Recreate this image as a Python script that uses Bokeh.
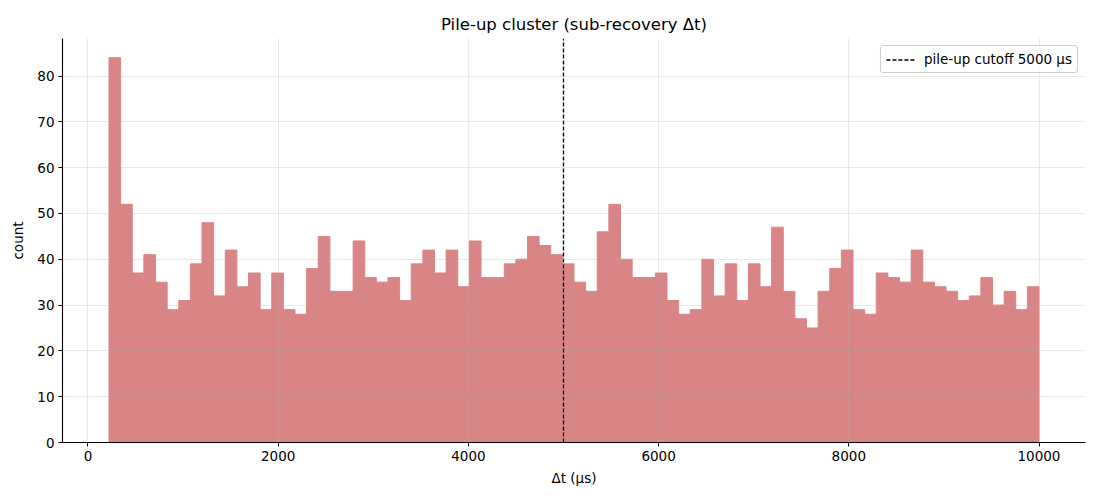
from bokeh.plotting import figure
from bokeh.models import Legend, LegendItem, FixedTicker, Range1d
from bokeh.embed import file_html
from bokeh.resources import INLINE

# Histogram data
bin_start = 221.0
bin_end = 10000.0
counts = [84, 52, 37, 41, 35, 29, 31, 39, 48, 32,
          42, 34, 37, 29, 37, 29, 28, 38, 45, 33,
          33, 44, 36, 35, 36, 31, 39, 42, 37, 42,
          34, 44, 36, 36, 39, 40, 45, 43, 41, 39,
          35, 33, 46, 52, 40, 36, 36, 37, 31, 28,
          29, 40, 32, 39, 31, 39, 34, 47, 33, 27,
          25, 33, 38, 42, 29, 28, 37, 36, 35, 42,
          35, 34, 33, 31, 32, 36, 30, 33, 29, 34]
cutoff = 5000
cutoff_label = "pile-up cutoff 5000 \u00b5s"
x_ticks = [0, 2000, 4000, 6000, 8000, 10000]
y_ticks = [0, 10, 20, 30, 40, 50, 60, 70, 80]

n = len(counts)
w = (bin_end - bin_start) / n
lefts = [bin_start + i * w for i in range(n)]
rights = [l + w for l in lefts]

FONT = "DejaVu Sans"
span = bin_end - bin_start
ytop = max(counts) * 1.05
p = figure(width=1095, height=494, output_backend="svg", toolbar_location=None,
           x_range=Range1d(bin_start - 0.05 * span, bin_end + 0.05 * span),
           y_range=Range1d(0, ytop),
           min_border_left=62, min_border_right=10, min_border_top=38, min_border_bottom=52,
           title="Pile-up cluster (sub-recovery \u0394t)")
p.title.align = "center"
p.title.text_font = FONT
p.title.text_font_size = "16.5px"
p.title.text_font_style = "normal"
p.title.text_color = "black"

p.quad(left=lefts, right=rights, bottom=0, top=counts,
       fill_color="#d98585", fill_alpha=1.0, line_color="#d98585", line_width=1.0)

vline = p.line([cutoff, cutoff], [0, ytop], line_color="black",
               line_dash="4 2", line_width=1.3)
legend = Legend(items=[LegendItem(label=cutoff_label, renderers=[vline])],
                location="top_right")
legend.label_text_font = FONT
legend.label_text_font_size = "13.5px"
legend.label_text_color = "black"
legend.border_line_color = "#cccccc"
legend.border_line_alpha = 1.0
legend.border_radius = 3
legend.background_fill_alpha = 0.8
legend.padding = 5
legend.spacing = 0
legend.margin = 7
legend.glyph_width = 30
legend.glyph_height = 13
legend.label_standoff = 8
legend.label_height = 13
p.add_layout(legend)

p.xaxis.ticker = FixedTicker(ticks=x_ticks)
p.yaxis.ticker = FixedTicker(ticks=y_ticks)
p.xaxis.axis_label = "\u0394t (\u00b5s)"
p.yaxis.axis_label = "count"
for ax in (p.xaxis[0], p.yaxis[0]):
    ax.axis_label_text_font = FONT
    ax.axis_label_text_font_size = "13.5px"
    ax.axis_label_text_font_style = "normal"
    ax.axis_label_text_color = "black"
    ax.major_label_text_font = FONT
    ax.major_label_text_font_size = "13.5px"
    ax.major_label_text_color = "black"
    ax.axis_line_color = "black"
    ax.major_tick_line_color = "black"
    ax.major_tick_out = 4
    ax.major_tick_in = 0
    ax.minor_tick_line_color = None
    ax.axis_line_width = 1.1
    ax.major_label_standoff = 4
p.xaxis.axis_label_standoff = 6
p.yaxis.axis_label_standoff = 8
p.yaxis.major_label_orientation = "horizontal"

p.outline_line_color = None
for g in (p.xgrid[0], p.ygrid[0]):
    g.grid_line_color = "#b0b0b0"
    g.grid_line_alpha = 0.35
    g.grid_line_width = 0.8
    g.level = "overlay"
p.xgrid.ticker = FixedTicker(ticks=x_ticks)
p.ygrid.ticker = FixedTicker(ticks=y_ticks)
p.background_fill_color = "white"

open("out.html", "w").write(file_html(p, INLINE))
